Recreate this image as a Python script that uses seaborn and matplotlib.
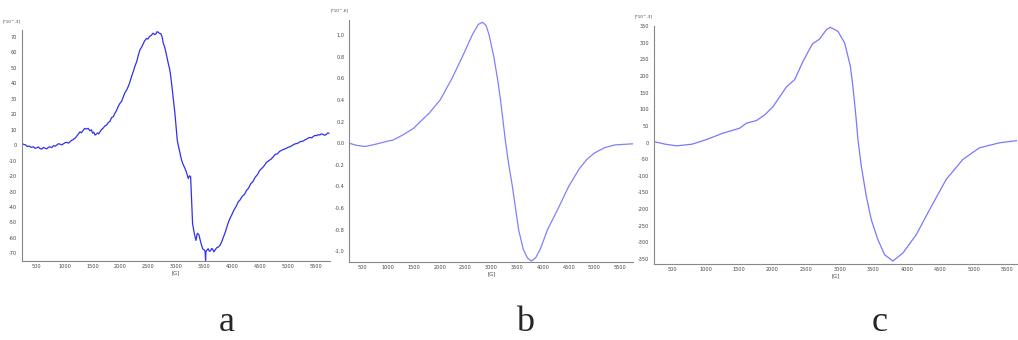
import seaborn as sns
import matplotlib.pyplot as plt
import pandas as pd
from matplotlib.ticker import MultipleLocator, FormatStrFormatter

sns.set_style('white')
plt.rcParams['font.family'] = ['DejaVu Sans']

# Panel a: noisy spectrum, field [G] vs signal [*10^-3]
field_a = [237, 270, 300, 330, 360, 400, 440, 470, 500, 530, 560, 590, 620, 650, 680,
           710, 738, 770, 800, 830, 860, 890, 917, 950, 980, 1010, 1040, 1070,
           1096, 1125, 1150, 1175, 1200, 1240, 1275, 1300, 1330, 1360, 1394, 1420,
           1453, 1480, 1500, 1520, 1543, 1570, 1590, 1610, 1633, 1660,
           1690, 1720, 1752, 1780, 1810, 1840, 1871, 1900, 1930, 1960, 1990, 2020,
           2050, 2080, 2109, 2140, 2170, 2200, 2228, 2260, 2290, 2320, 2347, 2375,
           2400, 2430, 2467, 2490, 2520, 2550, 2586, 2610, 2630, 2655, 2675, 2700,
           2720, 2745, 2765, 2790, 2810, 2835, 2854, 2875, 2890, 2914,
           2945, 2974, 3000, 3016, 3033, 3060, 3093, 3120, 3153, 3185, 3212, 3235,
           3255, 3270, 3290, 3320, 3350, 3375, 3403, 3430, 3469, 3500, 3515, 3522,
           3530, 3569, 3590, 3610, 3630, 3650, 3670, 3690, 3720, 3750, 3780, 3809,
           3840, 3880, 3920, 3958, 3990, 4030, 4070, 4107, 4140, 4180, 4220,
           4256, 4290, 4330, 4370, 4410, 4450, 4494, 4530, 4570, 4610, 4650, 4690,
           4732, 4770, 4810, 4845, 4880, 4920, 4960, 5000, 5031, 5070, 5100, 5135,
           5170, 5220, 5269, 5300, 5330, 5360, 5389, 5420, 5450, 5480, 5510, 5540,
           5567, 5595, 5620, 5650, 5680, 5710, 5734]
signal_a = [1.1, 0.4, 0.2, -0.9, -0.6, -1.4, -1.1, -2.0, -1.8, -1.2, -2.2, -2.6, -1.5, -2.0, -2.4,
            -1.4, -1.1, -1.6, -0.3, -0.7, 0.1, 0.9, 0.65, 0.2, 0.9, 1.6, 1.8, 1.3,
            2.2, 3.1, 3.5, 4.2, 5.0, 6.9, 8.6, 8.0, 9.5, 10.8, 10.4, 10.9,
            9.3, 9.9, 7.8, 8.4, 6.5, 7.2, 7.9, 7.3, 8.6, 10.1,
            11.0, 12.4, 13.0, 14.6, 15.3, 17.8, 18.4, 20.6, 22.5, 25.1, 27.0, 28.4,
            31.2, 34.0, 35.6, 38.0, 41.0, 44.6, 47.5, 51.2, 54.0, 58.3, 61.6, 63.2,
            65.0, 67.4, 69.0, 68.6, 70.3, 71.0, 72.4, 71.5, 71.8, 73.4, 73.0, 72.2,
            72.1, 70.0, 66.0, 63.4, 60.5, 56.2, 53.0, 49.8, 47.0, 40.0,
            30.0, 20.5, 10.0, 3.2, 0.0, -4.5, -9.7, -12.4, -15.0, -18.0, -21.6, -19.8,
            -20.5, -33.0, -50.8, -57.0, -61.6, -57.0, -57.9, -62.0, -67.0, -67.8, -69.0, -74.5,
            -68.5, -67.0, -68.6, -68.4, -66.9, -67.2, -69.0, -68.0, -66.4, -65.9, -64.8, -62.7,
            -59.6, -55.8, -51.0, -47.5, -45.2, -42.0, -39.6, -36.7, -35.4, -33.0, -31.8,
            -29.2, -27.9, -25.0, -23.6, -20.8, -19.1, -16.2, -15.0, -13.4, -11.3, -10.1, -9.2,
            -7.6, -6.0, -5.6, -4.1, -3.4, -2.7, -2.2, -1.4, -1.1, -0.3, 0.4, 0.9,
            1.2, 2.3, 2.6, 3.4, 3.9, 4.6, 5.0, 4.7, 5.6, 6.3, 6.1, 6.8,
            6.5, 7.3, 7.0, 6.4, 6.8, 7.9, 7.6]

# Panel b: smooth spectrum [*10^-6]
field_b = [250, 400, 560, 750, 1000, 1100, 1300, 1500, 1626, 1800, 2010, 2240, 2440,
           2630, 2750, 2830, 2900, 2960, 3050, 3120, 3180, 3230, 3280, 3340, 3410,
           3470, 3530, 3620, 3700, 3780, 3860, 3950, 4090, 4300, 4500, 4700, 4850,
           5000, 5200, 5400, 5750]
signal_b = [0.0, -0.02, -0.03, -0.01, 0.02, 0.03, 0.08, 0.14, 0.2, 0.28, 0.4, 0.6, 0.8,
            1.0, 1.1, 1.12, 1.09, 1.0, 0.8, 0.6, 0.4, 0.2, 0.0, -0.2, -0.4,
            -0.6, -0.8, -0.98, -1.06, -1.09, -1.06, -0.98, -0.8, -0.6, -0.4, -0.24, -0.15,
            -0.09, -0.04, -0.015, -0.005]

# Panel c: spectrum [*10^-3]
field_c = [247, 400, 570, 800, 1016, 1260, 1510, 1610, 1760, 1884, 2008, 2206, 2330,
           2454, 2594, 2702, 2802, 2862, 2975, 3075, 3160, 3198, 3238, 3273, 3323,
           3398, 3472, 3571, 3670, 3794, 3943, 4142, 4340, 4588, 4836, 5083, 5381, 5649]
signal_c = [2, -5, -10, -5, 9, 28, 43, 58, 66, 83, 108, 167, 189,
            244, 296, 311, 339, 346, 334, 299, 229, 168, 89, 9, -71,
            -162, -232, -292, -337, -356, -332, -277, -202, -111, -51, -16, -1, 6]

panels = [
    dict(x=field_a, y=signal_a, color='#3030ee', rect=[0.0216, 0.232, 0.3026, 0.68],
         ylim=(-75, 74.5), xlim=(237, 5750), major=10, minor=5, fmt='%d',
         unit='[*10^-3]', letter='a', lx=0.223),
    dict(x=field_b, y=signal_b, color='#8080ff', rect=[0.343, 0.229, 0.279, 0.712],
         ylim=(-1.1, 1.14), xlim=(248, 5750), major=0.2, minor=0.1, fmt='%.1f',
         unit='[*10^-6]', letter='b', lx=0.516),
    dict(x=field_c, y=signal_c, color='#7878ff', rect=[0.6424, 0.2235, 0.357, 0.70],
         ylim=(-365, 350), xlim=(232, 5650), major=50, minor=25, fmt='%d',
         unit='[*10^-3]', letter='c', lx=0.864),
]

fig = plt.figure(figsize=(10.18, 3.4), dpi=100)

for p in panels:
    ax = fig.add_axes(p['rect'])
    df = pd.DataFrame({'field': p['x'], 'signal': p['y']})
    sns.lineplot(data=df, x='field', y='signal', ax=ax, color=p['color'],
                 linewidth=0.9, estimator=None, sort=False)
    ax.set_xlim(*p['xlim'])
    ax.set_ylim(*p['ylim'])
    ax.xaxis.set_major_locator(MultipleLocator(500))
    ax.xaxis.set_minor_locator(MultipleLocator(100))
    ax.yaxis.set_major_locator(MultipleLocator(p['major']))
    ax.yaxis.set_minor_locator(MultipleLocator(p['minor']))
    ax.yaxis.set_major_formatter(FormatStrFormatter(p['fmt']))
    for side in ['top', 'right']:
        ax.spines[side].set_visible(False)
    for side in ['left', 'bottom']:
        ax.spines[side].set_color('#888888')
        ax.spines[side].set_linewidth(0.8)
    ax.tick_params(which='major', length=2.5, width=0.5, colors='#777777',
                   labelsize=3.6, labelcolor='#444444', pad=1)
    ax.tick_params(which='minor', length=1.5, width=0.4, colors='#888888')
    ax.tick_params(axis='x', which='both', direction='inout')
    ax.set_xlabel('[G]', fontsize=3.8, color='#444444', labelpad=0.5)
    ax.set_ylabel('')
    ax.text(-0.003, 1.03, p['unit'], transform=ax.transAxes, fontsize=3.0,
            color='#444444', ha='right', va='bottom')
    fig.text(p['lx'], 0.004, p['letter'], fontsize=26, ha='center', va='bottom',
             family=['Liberation Serif', 'DejaVu Serif'])

plt.savefig('out.png', dpi=100)
